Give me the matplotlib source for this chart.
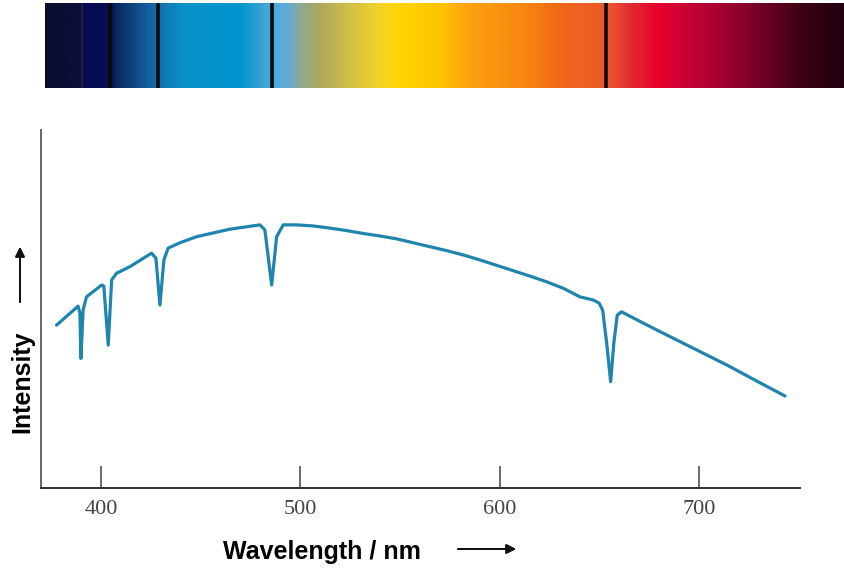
import numpy as np
import matplotlib
matplotlib.use("Agg")
import matplotlib.pyplot as plt
from matplotlib.colors import LinearSegmentedColormap

# spectrum colour stops (wavelength in nm, colour)
spec_wl = [371.9, 388.5, 391.0, 404.5, 407.0, 424.6, 440.0, 470.0, 480.0, 489.7,
           494.7, 500.0, 510.0, 525.0, 540.0, 550.0, 570.0, 585.0, 610.0, 630.0,
           650.0, 657.0, 665.0, 680.0, 690.0, 710.0, 730.0, 750.0, 772.9]
spec_col = ["#0a0d2e", "#0a0d38", "#050a55", "#061050", "#0a2a60", "#1565a5", "#0a90c8",
            "#0096d0", "#3aa2d4", "#58acdc", "#6aaad0", "#90a890", "#b0a858", "#d4c048",
            "#f4d424", "#ffd400", "#ffc400", "#fca010", "#f88a10", "#f06818",
            "#ec5a28", "#ec5030", "#e03030", "#e8002a", "#d00036", "#a80032",
            "#780028", "#400014", "#200010"]
# dark absorption lines in the spectrum strip (first one is faint)
line_wl = [390.5, 404.5, 428.6, 485.7, 653.0]
line_col = ["#20203a", "#0a0a0a", "#0a0a0a", "#0a0a0a", "#0a0a0a"]

# intensity curve
wavelength = [377.8, 388.6, 389.5, 390.0, 391.1, 392.8, 400.4, 401.5, 403.7, 405.4,
              407.9, 414.5, 425.4, 427.6, 429.6, 431.6, 433.7, 439.6, 448.0, 464.7,
              479.7, 482.2, 485.6, 488.1, 491.4, 498.1, 506.4, 514.8, 523.2, 531.5,
              539.8, 548.2, 556.5, 564.9, 573.3, 581.6, 590.0, 598.3, 606.7, 615.0,
              623.4, 631.7, 640.1, 646.8, 649.8, 651.5, 653.5, 655.5, 657.1, 658.8,
              661.0, 671.7, 680.2, 696.7, 713.6, 730.3, 742.9]
intensity = [45.5, 50.8, 48.9, 36.2, 49.7, 53.4, 56.7, 56.4, 39.9, 58.1,
             60.0, 61.8, 65.6, 64.2, 51.1, 63.7, 67.0, 68.5, 70.2, 72.3,
             73.5, 72.1, 56.7, 70.2, 73.5, 73.5, 73.2, 72.6, 71.9, 71.1,
             70.4, 69.6, 68.5, 67.4, 66.3, 65.1, 63.7, 62.2, 60.7, 59.2,
             57.6, 55.8, 53.4, 52.5, 51.6, 49.7, 40.5, 29.7, 40.5, 48.3,
             49.2, 46.1, 43.7, 39.1, 34.4, 29.4, 25.7]

xticks = [400, 500, 600, 700]

fig = plt.figure(figsize=(8.45, 5.71), dpi=100)

# spectrum strip on top
axs = fig.add_axes([45 / 845, 1 - 88 / 571, 800 / 845, 85 / 571])
lo, hi = spec_wl[0], spec_wl[-1]
pos = [(w - lo) / (hi - lo) for w in spec_wl]
cmap = LinearSegmentedColormap.from_list("spec", list(zip(pos, spec_col)))
grid = np.linspace(lo, hi, 800).reshape(1, -1)
axs.imshow(grid, cmap=cmap, vmin=lo, vmax=hi, aspect="auto",
           extent=[lo, hi, 0, 1], interpolation="bilinear")
for w, c in zip(line_wl, line_col):
    axs.axvline(w, color=c, lw=2.6 if c == "#0a0a0a" else 1.6)
axs.set_xlim(lo, hi)
axs.set_ylim(0, 1)
axs.axis("off")

# main plot
ax = fig.add_axes([41 / 845, 1 - 488 / 571, 759 / 845, 358 / 571])
ax.plot(wavelength, intensity, color="#2085ad", lw=2.3, solid_joinstyle="round",
        solid_capstyle="round")
ax.set_xlim(370.0, 750.4)
ax.set_ylim(0, 100)
ax.spines["top"].set_visible(False)
ax.spines["right"].set_visible(False)
ax.spines["left"].set_color("#666666")
ax.spines["bottom"].set_color("#333333")
ax.spines["left"].set_linewidth(1.4)
ax.spines["bottom"].set_linewidth(1.4)
ax.set_yticks([])
ax.set_xticks(xticks)
ax.set_xticklabels([str(t) for t in xticks], family="Liberation Serif",
                   fontsize=16, color="#444444")
ax.tick_params(axis="x", direction="in", length=16, width=1.1, color="#444444", pad=9)

# axis labels with arrows
fig.text(22 / 845, 1 - 382 / 571, "Intensity", rotation=90, ha="center", va="center",
         family="Liberation Sans", fontweight="bold", fontsize=18)
fig.text(322 / 845, 1 - 552 / 571, "Wavelength / nm", ha="center", va="center",
         family="Liberation Sans", fontweight="bold", fontsize=18)
arrow = dict(arrowstyle="-|>", color="#111111", lw=1.3, mutation_scale=14, shrinkA=0, shrinkB=0)
fig.add_artist(plt.annotate("", xy=(20 / 845, 1 - 247 / 571), xytext=(20 / 845, 1 - 302 / 571),
                            xycoords="figure fraction", arrowprops=arrow))
fig.add_artist(plt.annotate("", xy=(516 / 845, 1 - 549 / 571), xytext=(458 / 845, 1 - 549 / 571),
                            xycoords="figure fraction", arrowprops=arrow))

fig.savefig("out.png", dpi=100)
